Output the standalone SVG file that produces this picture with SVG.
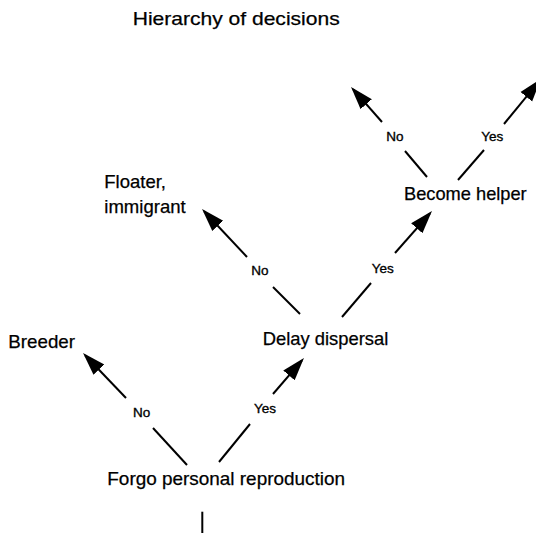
<svg xmlns="http://www.w3.org/2000/svg" width="536" height="533" viewBox="0 0 536 533">
  <style>
    .big { font-family: "Liberation Sans", Arial, sans-serif; font-size: 18.5px; fill: #000; stroke: #000; stroke-width: 0.25; }
    .lab { font-family: "Liberation Sans", Arial, sans-serif; font-size: 13.5px; fill: #000; stroke: #000; stroke-width: 0.35; text-anchor: middle; }
    .ln { stroke: #000; stroke-width: 2; fill: none; }
  </style>
  <defs>
    <marker id="head" markerUnits="userSpaceOnUse" viewBox="0 -9 24 18" markerWidth="24" markerHeight="18" refX="20" refY="0" orient="auto">
      <path d="M0,-7.5 L23,0 L0,7.5 z" fill="#000"/>
    </marker>
  </defs>
  <rect width="536" height="533" fill="#fff"/>

  <text class="big" x="132.7" y="24.5" textLength="207" lengthAdjust="spacingAndGlyphs">Hierarchy of decisions</text>

  <g id="connectors">
    <!-- Forgo personal reproduction -> Breeder (No) -->
    <line class="ln" x1="187" y1="465" x2="153" y2="428"/>
    <line class="ln" x1="126" y1="398" x2="85.1" y2="355.2" marker-end="url(#head)"/>
    <!-- Forgo personal reproduction -> Delay dispersal (Yes) -->
    <line class="ln" x1="219" y1="462" x2="250" y2="424"/>
    <line class="ln" x1="273" y1="394" x2="302" y2="360.3" marker-end="url(#head)"/>
    <!-- Delay dispersal -> Floater, immigrant (No) -->
    <line class="ln" x1="300" y1="314" x2="273" y2="287"/>
    <line class="ln" x1="247" y1="257" x2="204.1" y2="211.2" marker-end="url(#head)"/>
    <!-- Delay dispersal -> Become helper (Yes) -->
    <line class="ln" x1="342" y1="317" x2="371" y2="283"/>
    <line class="ln" x1="395" y1="253" x2="430" y2="213.3" marker-end="url(#head)"/>
    <!-- Become helper -> No -->
    <line class="ln" x1="427" y1="177" x2="405" y2="151"/>
    <line class="ln" x1="382" y1="122" x2="353" y2="89.2" marker-end="url(#head)"/>
    <!-- Become helper -> Yes -->
    <line class="ln" x1="458" y1="180" x2="484" y2="150"/>
    <line class="ln" x1="504" y1="124" x2="539" y2="81.3" marker-end="url(#head)"/>
    <!-- stem below the root -->
    <line class="ln" x1="202.3" y1="511.7" x2="202.3" y2="533"/>

    <text class="lab" x="141.7" y="416.5">No</text>
    <text class="lab" x="265" y="413.3">Yes</text>
    <text class="lab" x="260" y="275.3">No</text>
    <text class="lab" x="382.7" y="272.7">Yes</text>
    <text class="lab" x="395" y="140.7">No</text>
    <text class="lab" x="492.3" y="140.7">Yes</text>
  </g>

  <g id="forgo">
    <text class="big" x="107.3" y="485" textLength="237.7" lengthAdjust="spacingAndGlyphs">Forgo personal reproduction</text>
  </g>
  <g id="breeder">
    <text class="big" x="8.3" y="348.3" textLength="66.7" lengthAdjust="spacingAndGlyphs">Breeder</text>
  </g>
  <g id="delay">
    <text class="big" x="262.7" y="345" textLength="125.7" lengthAdjust="spacingAndGlyphs">Delay dispersal</text>
  </g>
  <g id="floater">
    <text class="big" x="104.3" y="188.3">Floater,</text>
    <text class="big" x="104.3" y="213.3" textLength="81.4" lengthAdjust="spacingAndGlyphs">immigrant</text>
  </g>
  <g id="helper">
    <text class="big" x="404" y="200" textLength="122.7" lengthAdjust="spacingAndGlyphs">Become helper</text>
  </g>
</svg>
